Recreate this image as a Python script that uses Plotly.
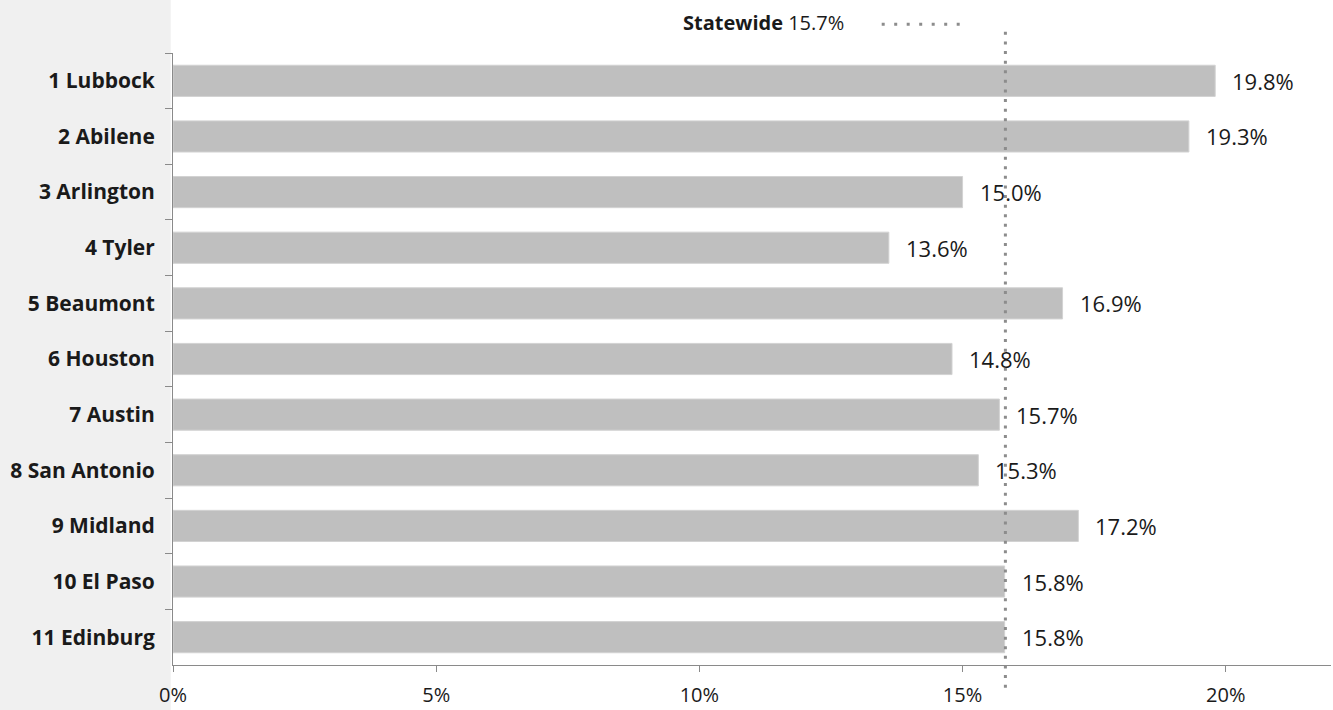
import plotly.graph_objects as go

# Regional rates, percent
regions = ["1 Lubbock", "2 Abilene", "3 Arlington", "4 Tyler", "5 Beaumont",
           "6 Houston", "7 Austin", "8 San Antonio", "9 Midland", "10 El Paso",
           "11 Edinburg"]
rates = [19.8, 19.3, 15.0, 13.6, 16.9, 14.8, 15.7, 15.3, 17.2, 15.8, 15.8]
statewide = 15.7
x_ticks = [0, 5, 10, 15, 20]

FONT = "Open Sans"
TEXT = "#1a1a1a"
AXIS = "#8a8a8a"
DOT = "#8c8c8c"

fig = go.Figure()
fig.add_trace(go.Bar(
    y=regions, x=rates, orientation="h", width=0.56,
    marker=dict(color="#bfbfbf", line=dict(color="#d2d2d2", width=1)),
    hoverinfo="skip", showlegend=False,
))

# value labels to the right of each bar
for r, v in zip(regions, rates):
    fig.add_annotation(x=v, y=r, xref="x", yref="y", text=f"{v:.1f}%",
                       showarrow=False, xanchor="left", xshift=15,
                       font=dict(family=FONT, size=22, color=TEXT))

# statewide reference line (dotted), anchored at the statewide value
fig.add_shape(type="line", xref="x", yref="paper", xsizemode="pixel",
              xanchor=statewide, x0=6, x1=6, y0=-0.037, y1=1.04,
              line=dict(color=DOT, width=3, dash="3px,6.6px"), layer="above")

# key for the statewide line
fig.add_annotation(xref="paper", yref="paper", x=0.581, y=1.0 + 31 / 617,
                   text=f"<b>Statewide</b> {statewide:.1f}%", showarrow=False,
                   xanchor="right", yanchor="middle",
                   font=dict(family=FONT, size=20, color=TEXT))
fig.add_shape(type="line", xref="paper", yref="paper",
              x0=0.612, x1=0.68, y0=1.0 + 29 / 617, y1=1.0 + 29 / 617,
              line=dict(color=DOT, width=3, dash="3px,9.5px"))

# light panel behind the category labels
fig.add_shape(type="rect", xref="paper", yref="paper",
              x0=-0.3, x1=-2.3 / 1158, y0=-0.2, y1=1.2,
              fillcolor="#f0f0f0", line=dict(width=0), layer="below")

fig.update_layout(
    width=1333, height=710,
    margin=dict(l=173, r=2, t=53, b=40),
    paper_bgcolor="white", plot_bgcolor="white",
    font=dict(family=FONT, color=TEXT),
    bargap=0.44,
)
fig.update_xaxes(range=[0, 22], tickvals=x_ticks,
                 ticktext=[f"{t}%" for t in x_ticks],
                 showgrid=False, zeroline=False, showline=True,
                 linecolor=AXIS, linewidth=1, ticks="outside", ticklen=6,
                 tickcolor=AXIS, tickfont=dict(family=FONT, size=20, color=TEXT),
                 ticklabelstandoff=6)
fig.update_yaxes(autorange="reversed", showgrid=False, showline=True,
                 linecolor=AXIS, linewidth=1, ticks="outside", ticklen=7,
                 tickcolor=AXIS, tickson="boundaries",
                 tickfont=dict(family=FONT, size=21, color=TEXT),
                 ticklabelstandoff=13,
                 tickprefix="<b>", ticksuffix="</b>")

fig.write_html("out.html")
